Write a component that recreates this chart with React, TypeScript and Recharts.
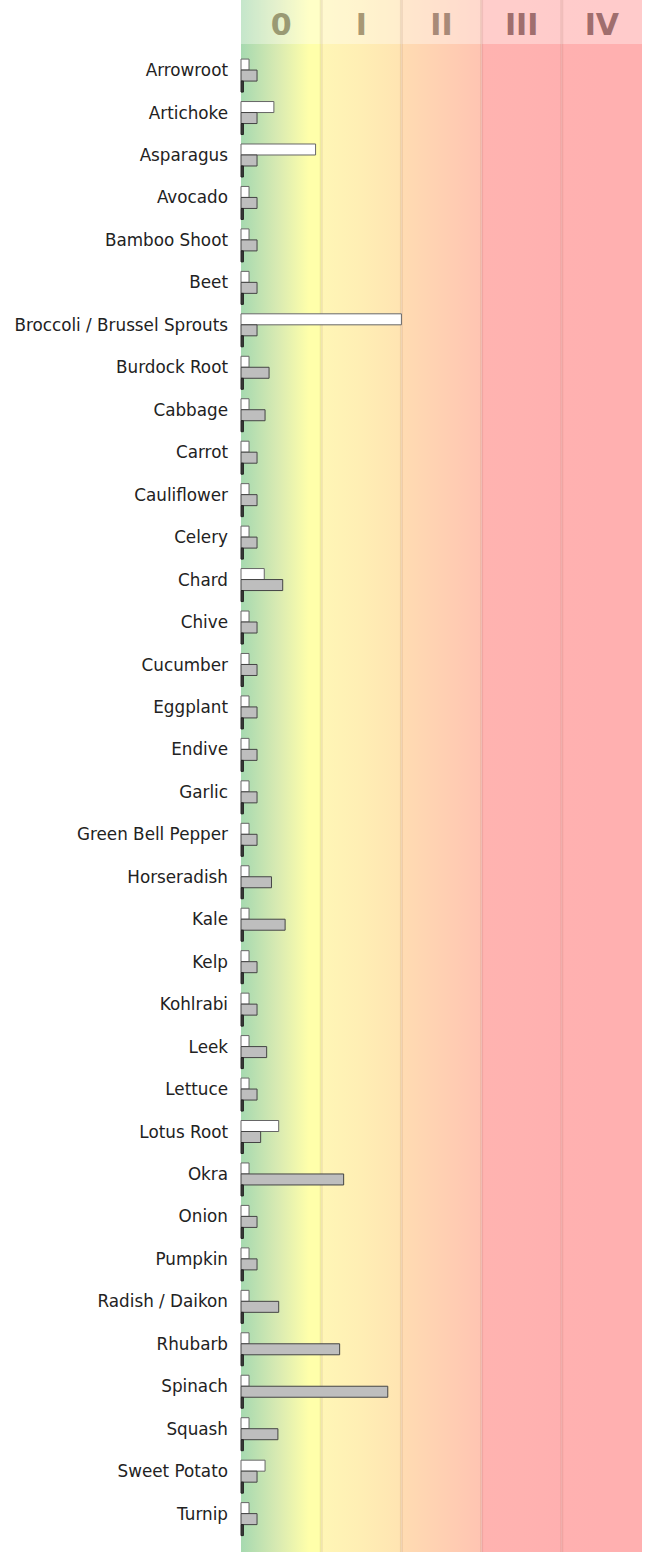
import React from "react";
import { BarChart, Bar, XAxis, YAxis, ReferenceArea } from "recharts";

const CATEGORIES = [
  "Arrowroot", "Artichoke", "Asparagus", "Avocado", "Bamboo Shoot", "Beet",
  "Broccoli / Brussel Sprouts", "Burdock Root", "Cabbage", "Carrot", "Cauliflower",
  "Celery", "Chard", "Chive", "Cucumber", "Eggplant", "Endive", "Garlic",
  "Green Bell Pepper", "Horseradish", "Kale", "Kelp", "Kohlrabi", "Leek", "Lettuce",
  "Lotus Root", "Okra", "Onion", "Pumpkin", "Radish / Daikon", "Rhubarb", "Spinach",
  "Squash", "Sweet Potato", "Turnip",
];

const WHITE_VALUES = [
  0.1, 0.41, 0.93, 0.1, 0.1, 0.1, 2.0, 0.1, 0.1, 0.1, 0.1, 0.1, 0.29, 0.1, 0.1,
  0.1, 0.1, 0.1, 0.1, 0.1, 0.1, 0.1, 0.1, 0.1, 0.1, 0.47, 0.1, 0.1, 0.1, 0.1,
  0.1, 0.1, 0.1, 0.3, 0.1,
];

const GRAY_VALUES = [
  0.2, 0.2, 0.2, 0.2, 0.2, 0.2, 0.2, 0.35, 0.3, 0.2, 0.2, 0.2, 0.52, 0.2, 0.2,
  0.2, 0.2, 0.2, 0.2, 0.38, 0.55, 0.2, 0.2, 0.32, 0.2, 0.245, 1.28, 0.2, 0.2, 0.47,
  1.23, 1.83, 0.46, 0.2, 0.2,
];

const DARK_VALUES = CATEGORIES.map(() => 0.03);

const ZONE_LABELS = ["0", "I", "II", "III", "IV"];
const ZONE_STARTS = [0, 1, 2, 3, 4];

const WIDTH = 651;
const HEIGHT = 1552;
const HEADER_H = 44;

const ZONE_GRADIENTS = [
  ["#a6d9b0", "#d8eab2", "#ffffaa"],
  ["#fff6b6", "#ffeeb4", "#ffe4b2"],
  ["#ffdcb2", "#ffd0b2", "#ffc4b2"],
  ["#ffb3b0", "#ffb2b0", "#ffb0b0"],
  ["#ffb1b0", "#ffb0b0", "#ffb0b0"],
];
const ZONE_TEXT = ["#9a9a74", "#a89874", "#a88a78", "#a06e6e", "#a06e6e"];

const data = CATEGORIES.map((name, i) => ({
  name,
  white: WHITE_VALUES[i],
  gray: GRAY_VALUES[i],
  dark: DARK_VALUES[i],
}));

function ZoneShape(props: any) {
  const { x, width, index } = props;
  return (
    <g>
      <rect x={x} y={0} width={width} height={HEIGHT} fill={`url(#zone${index})`} />
      <rect x={x} y={0} width={width} height={HEADER_H} fill="#fff" fillOpacity={0.35} />
      {index > 0 && (
        <rect x={x - 1.5} y={0} width={3} height={HEIGHT} fill="#6b3a2a" fillOpacity={0.1} />
      )}
      <text
        x={x + width / 2}
        y={35}
        textAnchor="middle"
        fontFamily="DejaVu Sans"
        fontWeight="bold"
        fontSize={30}
        fill={ZONE_TEXT[index]}
      >
        {ZONE_LABELS[index]}
      </text>
    </g>
  );
}

function CategoryTick(props: any) {
  const { x, y, payload } = props;
  return (
    <text
      x={x}
      y={y - 6}
      dy="0.35em"
      textAnchor="end"
      fontFamily="DejaVu Sans"
      fontSize={16.8}
      fill="#222"
    >
      {payload.value}
    </text>
  );
}

export default function App() {
  return (
    <div style={{ fontFamily: "DejaVu Sans" }}>
      <style>{"body{margin:0}"}</style>
      <BarChart
        width={WIDTH}
        height={HEIGHT}
        data={data}
        layout="vertical"
        margin={{ top: 55, right: 9, bottom: 11, left: 0 }}
        barCategoryGap="9.6%"
        barGap={0}
      >
        <defs>
          {ZONE_GRADIENTS.map((stops, i) => (
            <linearGradient key={i} id={`zone${i}`} x1="0" y1="0" x2="1" y2="0">
              <stop offset="0%" stopColor={stops[0]} />
              <stop offset={i === 0 ? "45%" : "50%"} stopColor={stops[1]} />
              <stop offset={i === 0 ? "85%" : "100%"} stopColor={stops[2]} />
            </linearGradient>
          ))}
        </defs>
        <XAxis type="number" domain={[0, 5]} hide />
        <YAxis
          type="category"
          dataKey="name"
          width={241}
          interval={0}
          axisLine={false}
          tickLine={false}
          tickSize={0}
          tickMargin={13}
          tick={<CategoryTick />}
        />
        {ZONE_STARTS.map((start, i) => (
          <ReferenceArea
            key={i}
            x1={start}
            x2={start + 1}
            ifOverflow="visible"
            shape={(p: any) => <ZoneShape {...p} index={i} />}
          />
        ))}
        <Bar dataKey="white" fill="#ffffff" stroke="#666" strokeWidth={1} isAnimationActive={false} />
        <Bar dataKey="gray" fill="#bebebe" stroke="#444" strokeWidth={1} isAnimationActive={false} />
        <Bar dataKey="dark" fill="#3a3a3a" stroke="#222" strokeWidth={1} isAnimationActive={false} />
      </BarChart>
    </div>
  );
}
